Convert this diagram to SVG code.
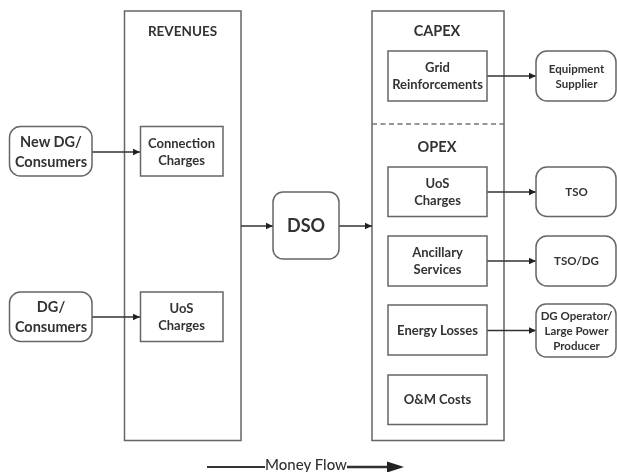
<svg xmlns="http://www.w3.org/2000/svg" width="617" height="472" viewBox="0 0 617 472">
<style>
.b{fill:#fff;stroke:#666;stroke-width:1.5}
.c{fill:none;stroke:#333;stroke-width:1.5}
.all{filter:url(#soft)}
text{font-family:Lato,"Liberation Sans",sans-serif;font-weight:700;fill:#333;text-anchor:middle;font-size:13px}
.h{font-size:13.5px}
.l{font-size:14.5px}
.s{font-size:11.5px}
</style>
<defs>
<filter id="soft" filterUnits="userSpaceOnUse" x="0" y="0" width="617" height="472"><feGaussianBlur stdDeviation="0.35"/></filter>
<marker id="a" markerUnits="userSpaceOnUse" markerWidth="8" markerHeight="8" refX="7" refY="4" orient="auto"><path d="M0 0.8L7 4L0 7.2Z" fill="#222"/></marker>
<marker id="m" markerUnits="userSpaceOnUse" markerWidth="18" markerHeight="12" refX="1" refY="6" orient="auto"><path d="M0 0.500L17 6L0 11.500Z" fill="#222"/></marker>
</defs>
<g class="all">
<g id="revenues"><rect class="b" x="124.500" y="11" width="116.500" height="429.500"/><text class="h" x="182.500" y="36">REVENUES</text></g>
<g id="costs"><rect class="b" x="372" y="11" width="132" height="429.500"/><path d="M372 124H504" fill="none" stroke="#777" stroke-width="1.500" stroke-dasharray="5 3.500"/><text class="l" x="437" y="36">CAPEX</text><text class="l" x="437" y="152">OPEX</text></g>
<g id="connectors">
<path class="c" d="M92 152H140" marker-end="url(#a)"/>
<path class="c" d="M92 317H140" marker-end="url(#a)"/>
<path class="c" d="M241 226H273" marker-end="url(#a)"/>
<path class="c" d="M339 226H372" marker-end="url(#a)"/>
<path class="c" d="M487 76H536" marker-end="url(#a)"/>
<path class="c" d="M487 192H536" marker-end="url(#a)"/>
<path class="c" d="M487 261H536" marker-end="url(#a)"/>
<path class="c" d="M487 330.500H536" marker-end="url(#a)"/>
<path class="c" d="M207 467H265" style="stroke-width:2"/>
<path class="c" d="M347 467H388" style="stroke-width:2.500" marker-end="url(#m)"/>
</g>
<g id="new-dg"><rect class="b" x="9.500" y="126.500" width="82.500" height="49.500" rx="11"/><text class="l" x="51" y="147">New DG/</text><text class="l" x="51" y="167">Consumers</text></g>
<g id="dg"><rect class="b" x="9.500" y="292" width="82.500" height="49.500" rx="11"/><text class="l" x="51" y="312">DG/</text><text class="l" x="51" y="332">Consumers</text></g>
<g id="connection-charges"><rect class="b" x="140.500" y="126.500" width="82.500" height="49.500"/><text x="181.500" y="148">Connection</text><text x="181.500" y="165">Charges</text></g>
<g id="uos-revenue"><rect class="b" x="140.500" y="292" width="82.500" height="49.500"/><text x="181.500" y="313">UoS</text><text x="181.500" y="330">Charges</text></g>
<g id="dso"><rect class="b" x="273" y="192" width="66" height="67" rx="10"/><text x="306" y="232" style="font-size:18px">DSO</text></g>
<g id="grid"><rect class="b" x="388" y="51" width="99" height="50"/><text x="437.500" y="72">Grid</text><text x="437.500" y="89">Reinforcements</text></g>
<g id="uos-cost"><rect class="b" x="388" y="167" width="99" height="49.500"/><text x="437.500" y="188">UoS</text><text x="437.500" y="205">Charges</text></g>
<g id="ancillary"><rect class="b" x="388" y="236" width="99" height="50"/><text x="437.500" y="257">Ancillary</text><text x="437.500" y="274">Services</text></g>
<g id="energy"><rect class="b" x="388" y="305" width="99" height="50"/><text x="437.500" y="335">Energy Losses</text></g>
<g id="om"><rect class="b" x="388" y="375" width="99" height="49.500"/><text x="437.500" y="404">O&amp;M Costs</text></g>
<g id="equipment"><rect class="b" x="536" y="51" width="80" height="50" rx="11"/><text class="s" x="576.500" y="73">Equipment</text><text class="s" x="576.500" y="88">Supplier</text></g>
<g id="tso"><rect class="b" x="536" y="167" width="80" height="49.500" rx="11"/><text class="s" x="576.500" y="196">TSO</text></g>
<g id="tso-dg"><rect class="b" x="536" y="236" width="80" height="50" rx="11"/><text class="s" x="576.500" y="265">TSO/DG</text></g>
<g id="dg-operator"><rect class="b" x="536" y="304" width="80" height="53" rx="10"/><text class="s" x="576.500" y="320">DG Operator/</text><text class="s" x="576.500" y="335">Large Power</text><text class="s" x="576.500" y="350">Producer</text></g>
<text id="money-flow" x="306" y="469.500" style="font-size:15px;font-weight:500">Money Flow</text>
</g>
</svg>
